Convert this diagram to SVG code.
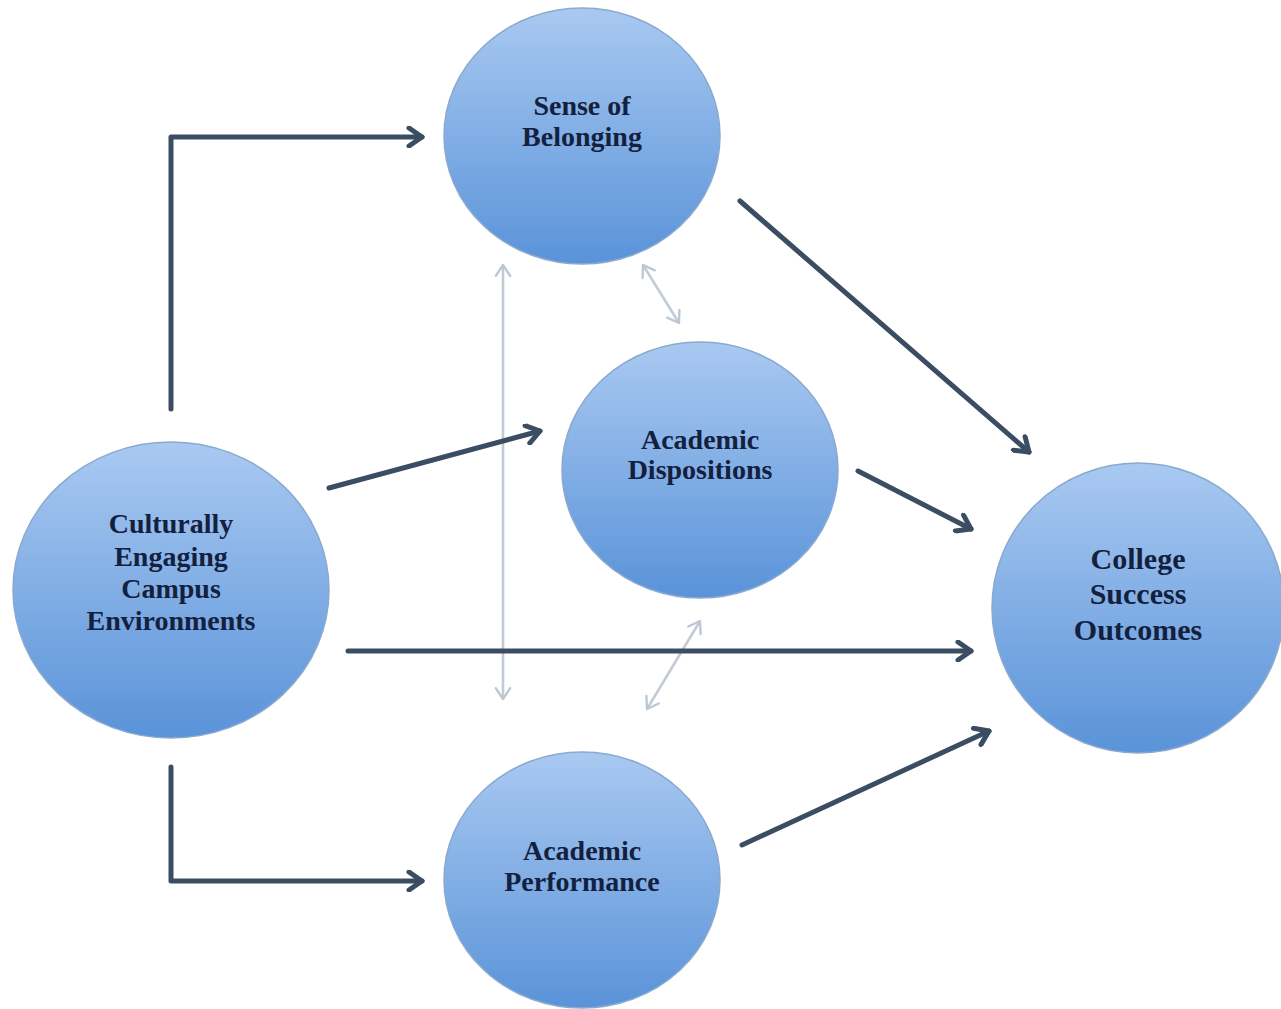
<svg xmlns="http://www.w3.org/2000/svg" width="1281" height="1009" viewBox="0 0 1281 1009">
<defs>
<linearGradient id="g" x1="0" y1="0" x2="0" y2="1">
<stop offset="0" stop-color="#a9c9f1"/>
<stop offset="1" stop-color="#5a93d9"/>
</linearGradient>
<marker id="ah" viewBox="0 0 22 22" refX="18" refY="11" markerWidth="22" markerHeight="22" markerUnits="userSpaceOnUse" orient="auto">
<path d="M5,2 L18,11 L5,20" fill="none" stroke="#3b4d63" stroke-width="5" stroke-linecap="round" stroke-linejoin="round"/>
</marker>
<marker id="lh" viewBox="0 0 20 20" refX="17" refY="10" markerWidth="18" markerHeight="18" markerUnits="userSpaceOnUse" orient="auto-start-reverse">
<path d="M5,2 L17,10 L5,18" fill="none" stroke="#bcc7d3" stroke-width="2.6" stroke-linecap="round" stroke-linejoin="round"/>
</marker>
</defs>
<style>
.n ellipse{fill:url(#g);stroke:#8aa9cf;stroke-width:1.5}
.n text{font-family:"Liberation Serif","Times New Roman",serif;font-weight:bold;fill:#13213f;text-anchor:middle}
.s{font-size:28px}
.b{font-size:30px}
.c{fill:none;stroke:#3b4d63;stroke-width:5;stroke-linecap:round;stroke-linejoin:round;marker-end:url(#ah)}
.l{fill:none;stroke:#c3ccd6;stroke-width:2.6;marker-start:url(#lh);marker-end:url(#lh)}
</style>
<rect width="1281" height="1009" fill="#ffffff"/>
<g id="connectors">
<line class="l" x1="503" y1="265" x2="503" y2="699"/>
<line class="l" x1="643" y1="265" x2="679" y2="323"/>
<line class="l" x1="700" y1="621" x2="647" y2="709"/>
<path class="c" d="M171,409 L171,137 L422,137"/>
<path class="c" d="M171,767 L171,881 L422,881"/>
<line class="c" x1="329" y1="488" x2="540" y2="431"/>
<line class="c" x1="740" y1="201" x2="1029" y2="452"/>
<line class="c" x1="858" y1="471" x2="971" y2="529"/>
<line class="c" x1="348" y1="651" x2="971" y2="651"/>
<line class="c" x1="742" y1="845" x2="989" y2="731"/>
</g>
<g id="sense" class="n">
<ellipse cx="582" cy="136" rx="138" ry="128"/>
<text class="s" x="582" y="115">Sense of</text>
<text class="s" x="582" y="146">Belonging</text>
</g>
<g id="dispositions" class="n">
<ellipse cx="700" cy="470" rx="138" ry="128"/>
<text class="s" x="700" y="449">Academic</text>
<text class="s" x="700" y="479">Dispositions</text>
</g>
<g id="culturally" class="n">
<ellipse cx="171" cy="590" rx="158" ry="148"/>
<text class="s" x="171" y="533">Culturally</text>
<text class="s" x="171" y="566">Engaging</text>
<text class="s" x="171" y="598">Campus</text>
<text class="s" x="171" y="630">Environments</text>
</g>
<g id="college" class="n">
<ellipse cx="1138" cy="608" rx="146" ry="145"/>
<text class="b" x="1138" y="569">College</text>
<text class="b" x="1138" y="604">Success</text>
<text class="b" x="1138" y="640">Outcomes</text>
</g>
<g id="performance" class="n">
<ellipse cx="582" cy="880" rx="138" ry="128"/>
<text class="s" x="582" y="860">Academic</text>
<text class="s" x="582" y="891">Performance</text>
</g>
</svg>
